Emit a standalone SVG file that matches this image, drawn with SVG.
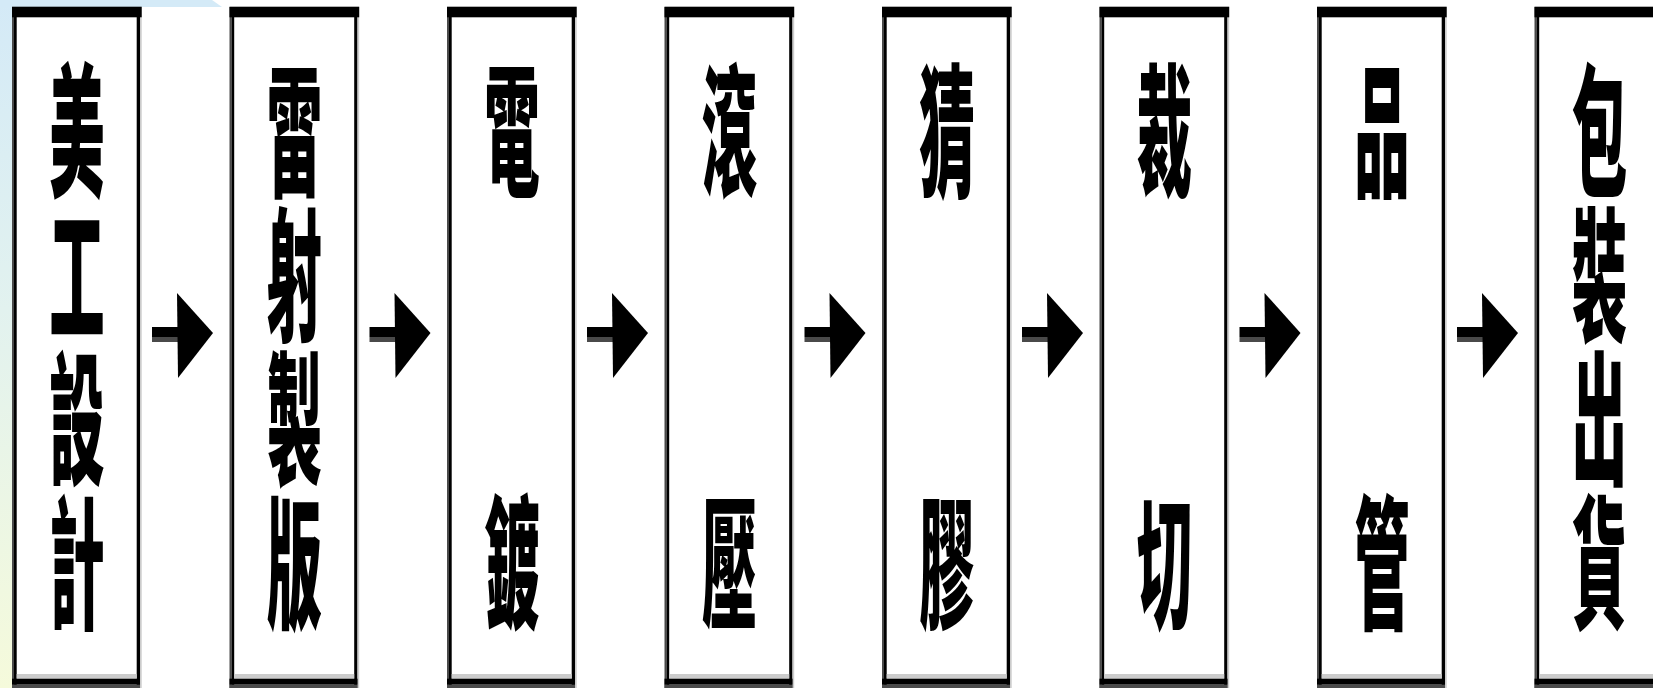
<svg xmlns="http://www.w3.org/2000/svg" xmlns:xlink="http://www.w3.org/1999/xlink" width="1653" height="688" viewBox="0 0 1653 688">
<style>
.lbl{font-family:"Noto Sans CJK TC","Noto Sans CJK JP",sans-serif;font-weight:900;font-size:144px;fill:#000;text-anchor:middle}
.blk{fill:#000}
.lg{fill:#cccccc}
.dg{fill:#4a4a4a}
</style>
<defs>
<linearGradient id="bg" x1="0" y1="0" x2="0" y2="1">
<stop offset="0" stop-color="#d4eaf7"/>
<stop offset="0.45" stop-color="#e2f2ef"/>
<stop offset="1" stop-color="#f5fadb"/>
</linearGradient>
<g id="box">
<rect x="0" y="7" width="130" height="681" fill="#fff"/>
<rect class="dg" x="0" y="7" width="2" height="681"/>
<rect class="blk" x="2" y="7" width="2.7" height="681"/>
<rect class="blk" x="124.7" y="7" width="3.3" height="681"/>
<rect class="lg" x="128" y="7" width="1.7" height="681"/>
<rect class="blk" x="0" y="6.7" width="129.7" height="10.6"/>
<rect class="lg" x="4.7" y="674" width="120" height="4.7"/>
<rect class="blk" x="0" y="678.7" width="128" height="6"/>
<rect class="dg" x="0" y="684.7" width="128" height="3.3"/>
</g>
<g id="arrow">
<rect class="blk" x="152" y="327" width="28" height="10"/>
<rect class="dg" x="152" y="337" width="28" height="5"/>
<polygon class="blk" points="177,293 213,333 178,378"/>
</g>
</defs>
<rect x="0" y="0" width="1653" height="688" fill="#fff"/>
<rect x="0" y="0" width="12" height="688" fill="url(#bg)"/>
<polygon points="0,0 212,0 222,7 0,7" fill="#d4eaf7"/>
<g id="connectors">
<use xlink:href="#arrow" x="0"/>
<use xlink:href="#arrow" x="217.5"/>
<use xlink:href="#arrow" x="435"/>
<use xlink:href="#arrow" x="652.5"/>
<use xlink:href="#arrow" x="870"/>
<use xlink:href="#arrow" x="1087.5"/>
<use xlink:href="#arrow" x="1305"/>
</g>
<g id="node-1"><use xlink:href="#box" x="12"/>
<text class="lbl" transform="translate(77,0) scale(0.385,1)"><tspan x="0" y="186.5">美</tspan><tspan x="0" y="330.5">工</tspan><tspan x="0" y="474.5">設</tspan><tspan x="0" y="618.5">計</tspan></text></g>
<g id="node-2"><use xlink:href="#box" x="229.5"/>
<text class="lbl" transform="translate(294.5,0) scale(0.385,1)"><tspan x="0" y="186.5">雷</tspan><tspan x="0" y="330.5">射</tspan><tspan x="0" y="474.5">製</tspan><tspan x="0" y="618.5">版</tspan></text></g>
<g id="node-3"><use xlink:href="#box" x="447"/>
<text class="lbl" transform="translate(512,0) scale(0.385,1)"><tspan x="0" y="186.5">電</tspan><tspan x="0" y="618.5">鍍</tspan></text></g>
<g id="node-4"><use xlink:href="#box" x="664.5"/>
<text class="lbl" transform="translate(729.5,0) scale(0.385,1)"><tspan x="0" y="186.5">滾</tspan><tspan x="0" y="618.5">壓</tspan></text></g>
<g id="node-5"><use xlink:href="#box" x="882"/>
<text class="lbl" transform="translate(947,0) scale(0.385,1)"><tspan x="0" y="186.5">猜</tspan><tspan x="0" y="618.5">膠</tspan></text></g>
<g id="node-6"><use xlink:href="#box" x="1099.5"/>
<text class="lbl" transform="translate(1164.5,0) scale(0.385,1)"><tspan x="0" y="186.5">裁</tspan><tspan x="0" y="618.5">切</tspan></text></g>
<g id="node-7"><use xlink:href="#box" x="1317"/>
<text class="lbl" transform="translate(1382,0) scale(0.385,1)"><tspan x="0" y="186.5">品</tspan><tspan x="0" y="618.5">管</tspan></text></g>
<g id="node-8"><use xlink:href="#box" x="1534.5"/>
<text class="lbl" transform="translate(1599.5,0) scale(0.385,1)"><tspan x="0" y="186.5">包</tspan><tspan x="0" y="330.5">裝</tspan><tspan x="0" y="474.5">出</tspan><tspan x="0" y="618.5">貨</tspan></text></g>
</svg>
